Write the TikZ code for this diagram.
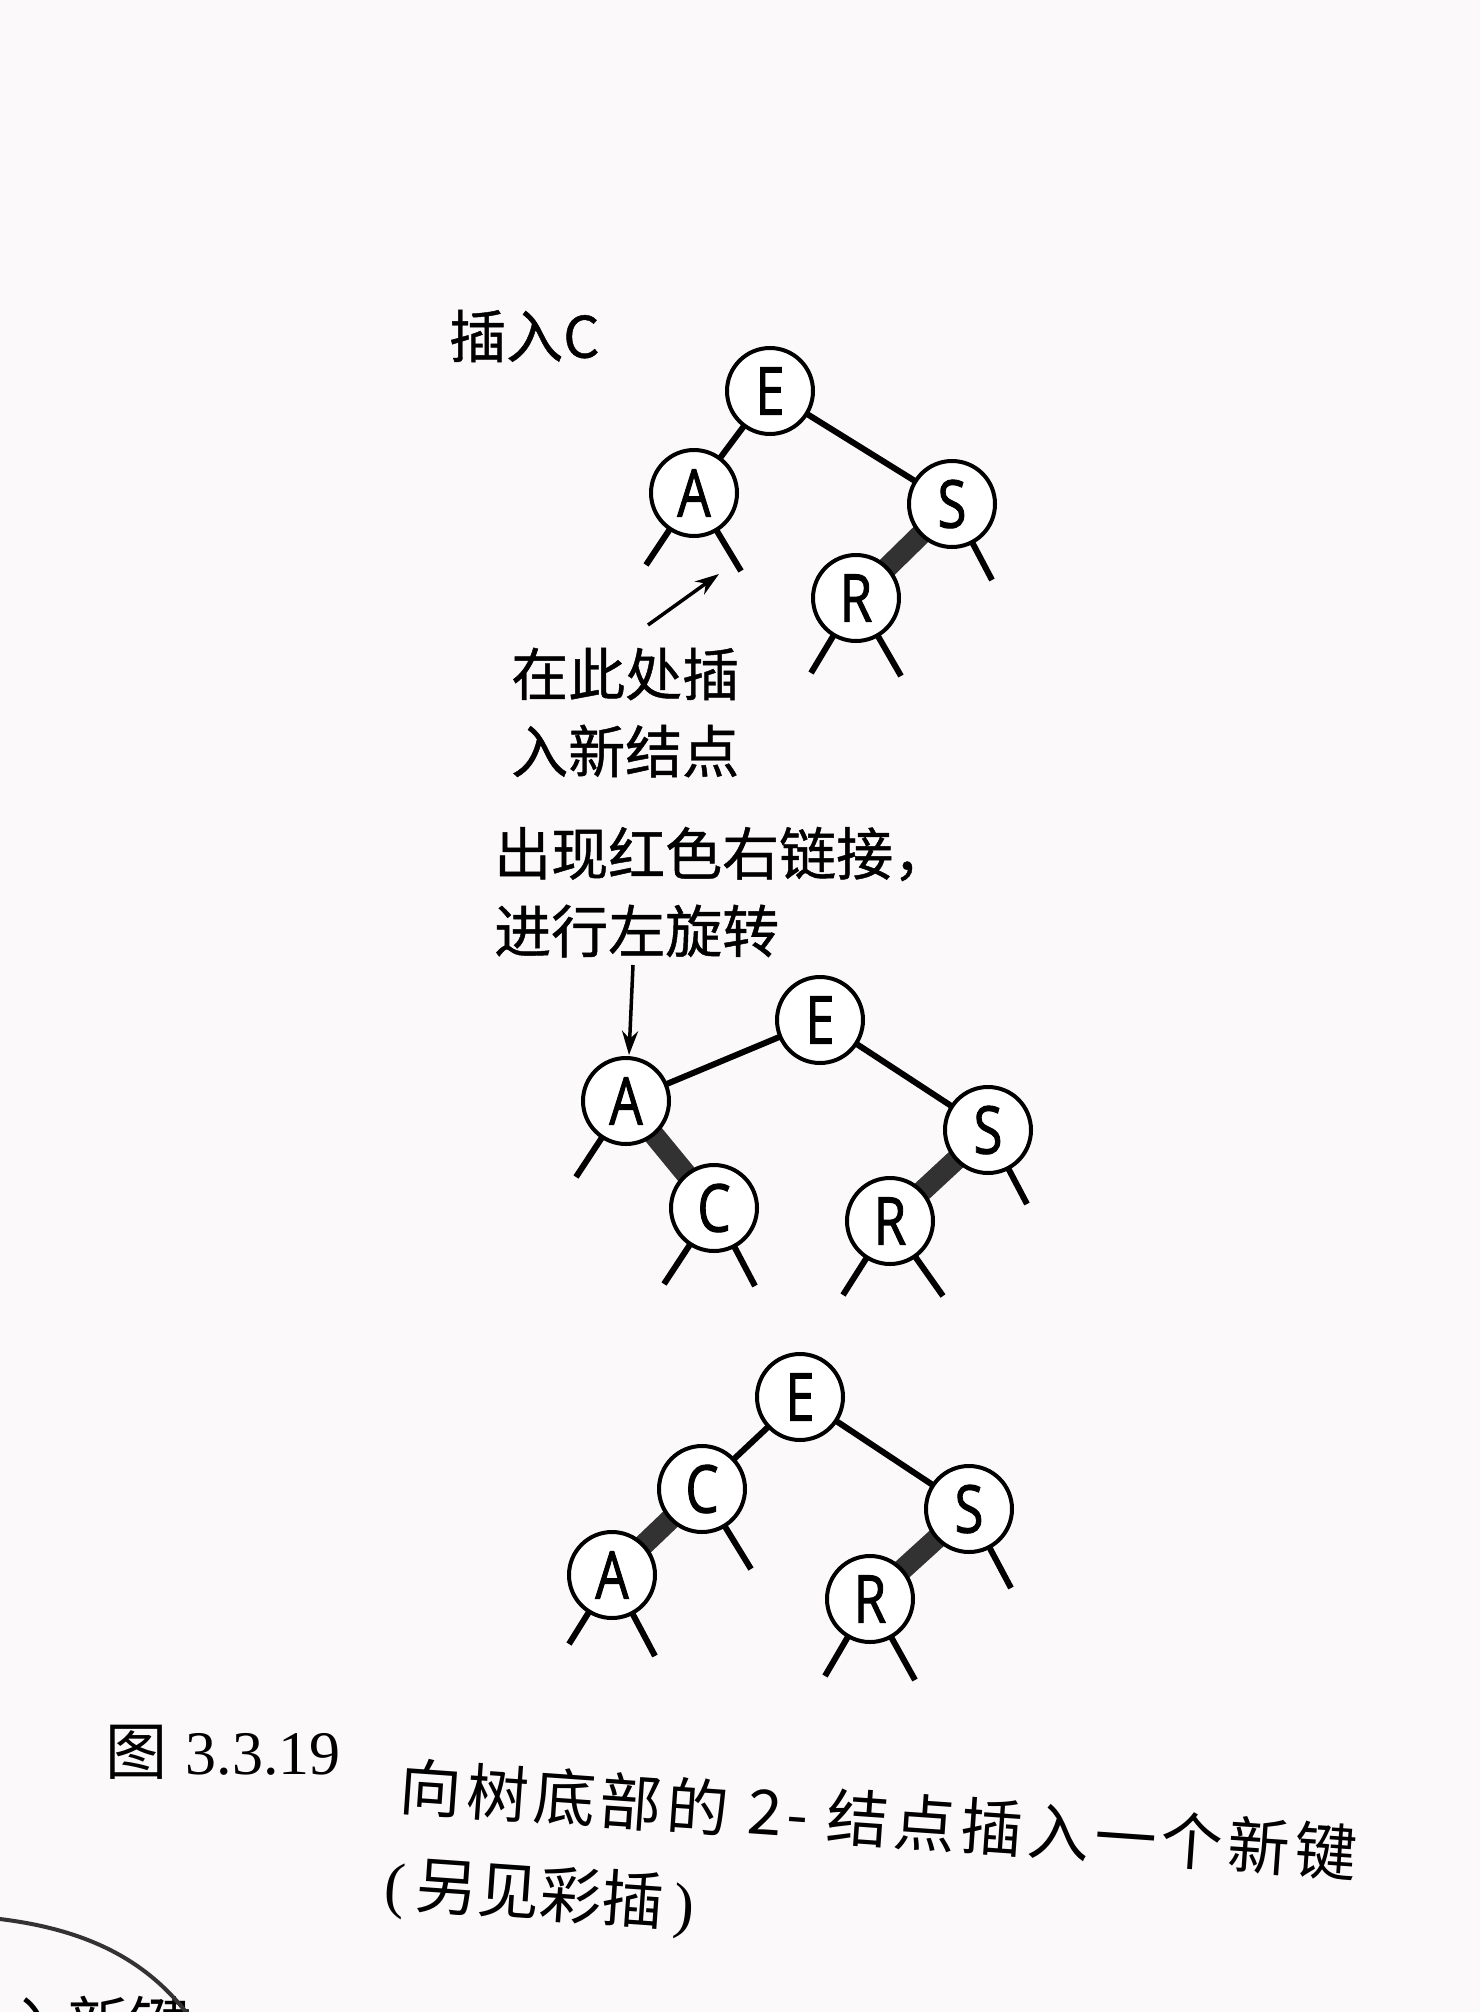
\documentclass[tikz,border=0pt]{standalone}
\usepackage{graphicx}
\usepackage{fontspec}
\setmainfont{Liberation Serif}
\newfontfamily\cjk[FakeBold=0.8]{Noto Sans CJK SC}
\newfontfamily\capcjk{Noto Sans CJK SC}
\newfontfamily\ndf[FakeBold=1.6]{Open Sans}
\usetikzlibrary{arrows.meta,backgrounds}
\definecolor{pagebg}{RGB}{251,249,249}
\definecolor{redlink}{RGB}{50,50,50}
\newcommand{\ltr}[1]{\scalebox{0.8}[1]{#1}}
\begin{document}
\begin{tikzpicture}[x=1pt,y=-1pt,
  nd/.style={circle,draw,line width=4pt,fill=white,minimum size=86pt,inner sep=0pt,font=\ndf\fontsize{66}{66}\selectfont},
  lk/.style={line width=6pt},
  rd/.style={line width=21pt,draw=redlink},
  stub/.style={line width=6pt},
  lbl/.style={font=\cjk\fontsize{57}{60}\selectfont,anchor=west,inner sep=0pt},
  captxt/.style={font=\capcjk\fontsize{62}{64}\selectfont,anchor=west,inner sep=0pt},
  arr/.style={line width=3.5pt,-{Stealth[length=24pt,width=16pt]}}]
\useasboundingbox (0,0) rectangle (1480,2012);

% labels
\node[lbl] (t1) at (449,336) {插入C};
\node[lbl] (t2) at (511,674) {在此处插};
\node[lbl] (t3) at (511,751) {入新结点};
\node[lbl] (t4) at (494,854) {出现红色右链接，};
\node[lbl] (t5) at (494,931) {进行左旋转};

% tree 1
\node[nd] (E1) at (770,391) {\ltr{E}};
\node[nd] (A1) at (694,493) {\ltr{A}};
\node[nd] (S1) at (952,504) {\ltr{S}};
\node[nd] (R1) at (856,598) {\ltr{R}};
\coordinate (a1l) at (646,565);
\coordinate (a1r) at (741,571);
\coordinate (s1r) at (992,580);
\coordinate (r1l) at (811,673);
\coordinate (r1r) at (901,676);
\coordinate (ar1s) at (648,625);
\coordinate (ar1e) at (719,574);

% tree 2
\node[nd] (E2) at (820,1020) {\ltr{E}};
\node[nd] (A2) at (626,1101) {\ltr{A}};
\node[nd] (S2) at (988,1130) {\ltr{S}};
\node[nd] (C2) at (714,1208) {\ltr{C}};
\node[nd] (R2) at (890,1221) {\ltr{R}};
\coordinate (a2l) at (576,1177);
\coordinate (c2l) at (664,1284);
\coordinate (c2r) at (755,1286);
\coordinate (r2l) at (843,1295);
\coordinate (r2r) at (943,1296);
\coordinate (s2r) at (1027,1204);
\coordinate (ar2s) at (633,965);
\coordinate (ar2e) at (629,1055);

% tree 3
\node[nd] (E3) at (800,1397) {\ltr{E}};
\node[nd] (C3) at (702,1489) {\ltr{C}};
\node[nd] (S3) at (969,1509) {\ltr{S}};
\node[nd] (A3) at (612,1575) {\ltr{A}};
\node[nd] (R3) at (870,1599) {\ltr{R}};
\coordinate (c3r) at (751,1569);
\coordinate (a3l) at (569,1644);
\coordinate (a3r) at (655,1656);
\coordinate (s3r) at (1011,1588);
\coordinate (r3l) at (825,1676);
\coordinate (r3r) at (915,1680);

% caption
\node[captxt] (fig) at (105,1752) {图\hspace{0.3em}{\rmfamily 3.3.19}};
\node[captxt,rotate=-4] (cap1) at (400,1786) {\addfontfeatures{LetterSpace=8}向树底部的 2- 结点插入一个新键};
\node[captxt,rotate=-4] (cap2) at (385,1886) {{\rmfamily (}\,另见彩插\,{\rmfamily )}};

% fragment of next page
\node[font=\capcjk\fontsize{62}{62}\selectfont,anchor=north west,inner sep=0pt] (frag) at (5,1996) {入新键};
\draw[line width=4pt,draw=black!80] (0,1919) .. controls (90,1930) and (150,1962) .. (192,2020);

% arrows
\draw[arr] (ar1s) -- (ar1e);
\draw[arr] (ar2s) -- (ar2e);

\begin{scope}[on background layer]
\fill[pagebg] (0,0) rectangle (1480,2012);
% tree 1 links
\draw[lk] (E1.center) -- (A1.center);
\draw[lk] (E1.center) -- (S1.center);
\draw[rd] (S1.center) -- (R1.center);
\draw[stub] (A1.center) -- (a1l);
\draw[stub] (A1.center) -- (a1r);
\draw[stub] (S1.center) -- (s1r);
\draw[stub] (R1.center) -- (r1l);
\draw[stub] (R1.center) -- (r1r);
% tree 2 links
\draw[lk] (E2.center) -- (A2.center);
\draw[lk] (E2.center) -- (S2.center);
\draw[rd] (A2.center) -- (C2.center);
\draw[rd] (S2.center) -- (R2.center);
\draw[stub] (A2.center) -- (a2l);
\draw[stub] (C2.center) -- (c2l);
\draw[stub] (C2.center) -- (c2r);
\draw[stub] (R2.center) -- (r2l);
\draw[stub] (R2.center) -- (r2r);
\draw[stub] (S2.center) -- (s2r);
% tree 3 links
\draw[lk] (E3.center) -- (C3.center);
\draw[lk] (E3.center) -- (S3.center);
\draw[rd] (C3.center) -- (A3.center);
\draw[rd] (S3.center) -- (R3.center);
\draw[stub] (C3.center) -- (c3r);
\draw[stub] (A3.center) -- (a3l);
\draw[stub] (A3.center) -- (a3r);
\draw[stub] (S3.center) -- (s3r);
\draw[stub] (R3.center) -- (r3l);
\draw[stub] (R3.center) -- (r3r);
\end{scope}
\end{tikzpicture}
\end{document}
